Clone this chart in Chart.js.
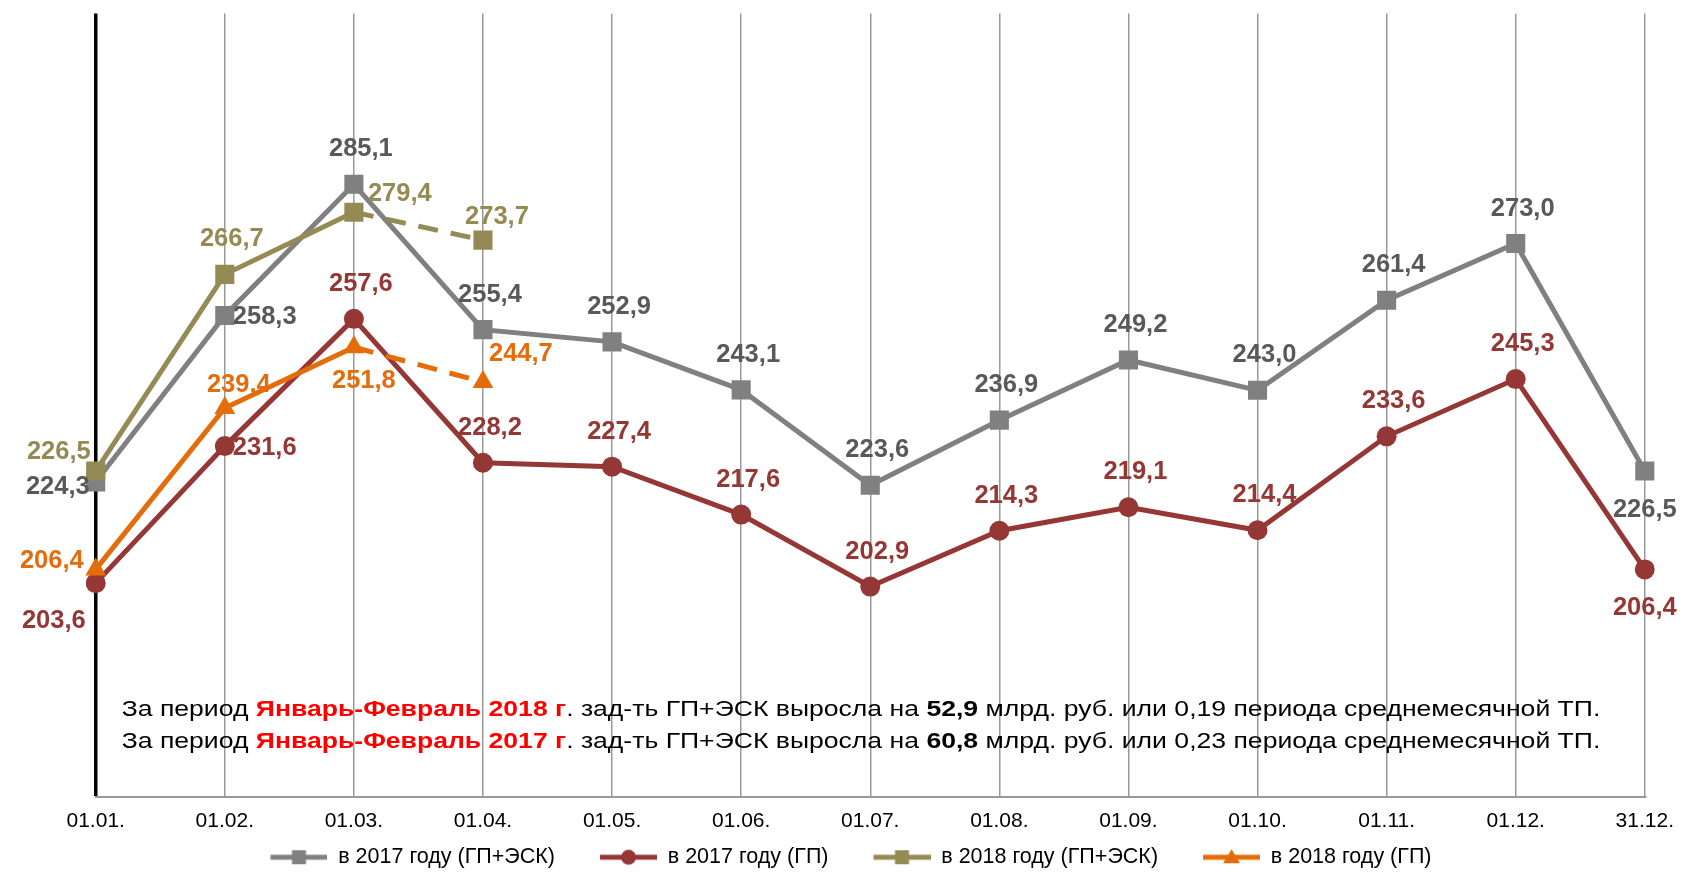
<!DOCTYPE html>
<html lang="ru">
<head>
<meta charset="utf-8">
<title>Задолженность ГП+ЭСК</title>
<script src="https://cdn.jsdelivr.net/npm/chart.js@4.4.1/dist/chart.umd.min.js"></script>
<style>
  html, body { margin: 0; padding: 0; background: #fff; }
</style>
</head>
<body>
<canvas id="debtChart" width="1686" height="872"></canvas>
<script>
// Даты отчёта (ось X)
const dates = ['01.01.', '01.02.', '01.03.', '01.04.', '01.05.', '01.06.', '01.07.',
               '01.08.', '01.09.', '01.10.', '01.11.', '01.12.', '31.12.'];

// Задолженность, млрд. руб.
const gpEsk2017 = [224.3, 258.3, 285.1, 255.4, 252.9, 243.1, 223.6, 236.9, 249.2, 243.0, 261.4, 273.0, 226.5];
const gp2017    = [203.6, 231.6, 257.6, 228.2, 227.4, 217.6, 202.9, 214.3, 219.1, 214.4, 233.6, 245.3, 206.4];
const gpEsk2018 = [226.5, 266.7, 279.4, 273.7, null, null, null, null, null, null, null, null, null];
const gp2018    = [206.4, 239.4, 251.8, 244.7, null, null, null, null, null, null, null, null, null];

const seriesNames = ['в 2017 году (ГП+ЭСК)', 'в 2017 году (ГП)', 'в 2018 году (ГП+ЭСК)', 'в 2018 году (ГП)'];

// Where each value label sits relative to its point
const labelPlaces = [
    ['left', 'right', 'top', 'top', 'top', 'top', 'top', 'top', 'top', 'top', 'top', 'top', 'bottom'],
    ['bottomLeft', 'right', 'top', 'top', 'top', 'top', 'top', 'top', 'top', 'top', 'top', 'top', 'bottom'],
    ['topLeft', 'top', 'rightUp', 'topNear'],
    ['leftUp', 'topNear', 'bottomRight', 'topRight']
];
const places = {
    top:         { dx: 7,   dy: -35, align: 'center' },
    topNear:     { dx: 14,  dy: -23, align: 'center' },
    bottom:      { dx: 0,   dy: 39,  align: 'center' },
    bottomRight: { dx: 10,  dy: 34,  align: 'center' },
    right:       { dx: 8,   dy: 2,   align: 'left' },
    rightUp:     { dx: 14,  dy: -18, align: 'left' },
    topRight:    { dx: 6,   dy: -28, align: 'left' },
    left:        { dx: -6,  dy: 5,   align: 'right' },
    leftUp:      { dx: -12, dy: -8,  align: 'right' },
    topLeft:     { dx: -5,  dy: -19, align: 'right' },
    bottomLeft:  { dx: -10, dy: 38,  align: 'right' }
};

const lineColors  = ['#808080', '#953735', '#948a54', '#e46c0a'];
const labelColors = ['#595959', '#953735', '#948a54', '#e46c0a'];
const pointStyles = ['rect', 'circle', 'rect', 'triangle'];
const pointSizes  = [13.5, 10, 13.5, 12];
const dashedFrom = 2; // 2018: segment after 01.03. is dashed
const fontFamily = '"Liberation Sans", Arial, sans-serif';

function fmt(v) {
    return v.toFixed(1).replace('.', ',');
}

// line + marker picture for the legend (blank space on the left works as item gap)
function legendMarker(color, style) {
    const c = document.createElement('canvas');
    c.width = 90;
    c.height = 20;
    const g = c.getContext('2d');
    g.strokeStyle = color;
    g.fillStyle = color;
    g.lineWidth = 5;
    g.beginPath();
    g.moveTo(33, 10);
    g.lineTo(90, 10);
    g.stroke();
    const cx = 61.5;
    if (style === 'rect') {
        g.fillRect(cx - 7, 3, 14, 14);
    } else if (style === 'circle') {
        g.beginPath();
        g.arc(cx, 10, 7.5, 0, Math.PI * 2);
        g.fill();
    } else {
        g.beginPath();
        g.moveTo(cx, 2);
        g.lineTo(cx + 8.5, 16);
        g.lineTo(cx - 8.5, 16);
        g.closePath();
        g.fill();
    }
    return c;
}

const valueLabels = {
    id: 'valueLabels',
    afterDatasetsDraw(chart) {
        const ctx = chart.ctx;
        ctx.save();
        ctx.font = 'bold 25.5px ' + fontFamily;
        ctx.textBaseline = 'middle';
        chart.data.datasets.forEach((ds, i) => {
            const meta = chart.getDatasetMeta(i);
            meta.data.forEach((pt, j) => {
                const v = ds.data[j];
                if (v === null || v === undefined) return;
                const p = places[labelPlaces[i][j]];
                ctx.fillStyle = labelColors[i];
                ctx.textAlign = p.align;
                ctx.fillText(fmt(v), pt.x + p.dx, pt.y + p.dy);
            });
        });
        ctx.restore();
    }
};

// Текст-пояснение внизу графика
const noteLines = [
    [['За период ', 'normal', '#000'], ['Январь-Февраль 2018 г', 'bold', '#ff0000'], ['. зад-ть ГП+ЭСК выросла на ', 'normal', '#000'],
     ['52,9', 'bold', '#000'], [' млрд. руб. или 0,19 периода среднемесячной ТП.', 'normal', '#000']],
    [['За период ', 'normal', '#000'], ['Январь-Февраль 2017 г', 'bold', '#ff0000'], ['. зад-ть ГП+ЭСК выросла на ', 'normal', '#000'],
     ['60,8', 'bold', '#000'], [' млрд. руб. или 0,23 периода среднемесячной ТП.', 'normal', '#000']]
];

const note = {
    id: 'note',
    afterDatasetsDraw(chart) {
        const ctx = chart.ctx;
        ctx.save();
        ctx.textBaseline = 'middle';
        ctx.textAlign = 'left';
        noteLines.forEach((parts, k) => {
            ctx.save();
            ctx.translate(chart.chartArea.left + 26, 710 + k * 31.5);
            ctx.scale(1.208, 1); // the original text is drawn a bit wide
            let x = 0;
            parts.forEach(([text, weight, color]) => {
                ctx.font = weight + ' 22px ' + fontFamily;
                ctx.fillStyle = color;
                ctx.fillText(text, x, 0);
                x += ctx.measureText(text).width;
            });
            ctx.restore();
        });
        ctx.restore();
    }
};

const series = [gpEsk2017, gp2017, gpEsk2018, gp2018];
const markers = lineColors.map((c, i) => legendMarker(c, pointStyles[i]));

const datasets = series.map((values, i) => ({
    label: seriesNames[i],
    data: values,
    borderColor: lineColors[i],
    backgroundColor: lineColors[i],
    borderWidth: 5,
    pointStyle: pointStyles[i],
    pointRadius: pointSizes[i],
    pointBorderWidth: 0,
    pointBackgroundColor: lineColors[i],
    tension: 0,
    spanGaps: false,
    order: 3 - i,
    segment: i >= 2 ? {
        borderDash: c => c.p0DataIndex >= dashedFrom ? [20, 13] : undefined
    } : undefined
}));

const ctx = document.getElementById('debtChart').getContext('2d');
const debtChart = new Chart(ctx, {
    type: 'line',
    data: { labels: dates, datasets: datasets },
    options: {
        responsive: false,
        animation: false,
        layout: { padding: { left: 24, right: 41, top: 10, bottom: -6 } },
        scales: {
            x: {
                offset: false,
                afterFit: scale => { scale.height = 38; },
                grid: {
                    drawTicks: false,
                    color: c => c.index === 0 ? '#000000' : '#999999',
                    lineWidth: c => c.index === 0 ? 3.5 : 1.5
                },
                border: { display: true, color: '#999999', width: 2 },
                ticks: {
                    color: '#000',
                    padding: 12,
                    maxRotation: 0,
                    autoSkip: false,
                    font: { family: fontFamily, size: 21 }
                }
            },
            y: {
                min: 160,
                max: 320,
                afterFit: scale => { scale.width = 71.7; },
                grid: { display: false, drawTicks: false },
                border: { display: false },
                ticks: { display: false }
            }
        },
        plugins: {
            tooltip: { enabled: false },
            legend: {
                position: 'bottom',
                labels: {
                    usePointStyle: true,
                    pointStyleWidth: 90,
                    boxHeight: 21,
                    padding: 12,
                    color: '#000',
                    font: { family: fontFamily, size: 21.5 },
                    generateLabels: chart => chart.data.datasets.map((ds, i) => ({
                        text: ds.label,
                        pointStyle: markers[i],
                        fillStyle: lineColors[i],
                        strokeStyle: lineColors[i],
                        lineWidth: 0,
                        hidden: false,
                        datasetIndex: i
                    }))
                }
            }
        }
    },
    plugins: [valueLabels, note]
});
</script>
</body>
</html>
